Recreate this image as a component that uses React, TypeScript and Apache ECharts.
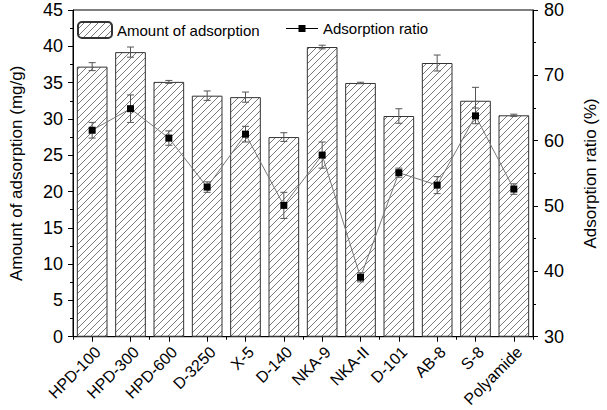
import React, { useEffect, useRef } from "react";
import * as echarts from "echarts";

const categories = ["HPD-100", "HPD-300", "HPD-600", "D-3250", "X-5", "D-140", "NKA-9", "NKA-II", "D-101", "AB-8", "S-8", "Polyamide"];
const amount = [37.2, 39.2, 35.1, 33.2, 33.0, 27.5, 39.9, 34.95, 30.4, 37.7, 32.5, 30.5];
const amountErr = [0.55, 0.7, 0.2, 0.65, 0.7, 0.6, 0.25, 0.1, 1.0, 1.1, 1.85, 0.15];
const ratio = [61.6, 64.9, 60.4, 52.9, 61.0, 50.1, 57.8, 39.1, 55.1, 53.2, 63.8, 52.6];
const ratioErr = [1.2, 2.1, 1.1, 0.8, 1.2, 2.0, 2.0, 0.7, 0.7, 1.3, 1.2, 0.8];

const FONT = "'Liberation Sans', Arial, Helvetica, sans-serif";

function makeHatch(): HTMLCanvasElement {
  const s = 7;
  const c = document.createElement("canvas");
  c.width = s;
  c.height = s;
  const ctx = c.getContext("2d")!;
  ctx.fillStyle = "#ffffff";
  ctx.fillRect(0, 0, s, s);
  ctx.strokeStyle = "#7a7a7a";
  ctx.lineWidth = 1;
  ctx.beginPath();
  ctx.moveTo(-1, s + 1);
  ctx.lineTo(s + 1, -1);
  ctx.moveTo(-1, 1);
  ctx.lineTo(1, -1);
  ctx.moveTo(s - 1, s + 1);
  ctx.lineTo(s + 1, s - 1);
  ctx.stroke();
  return c;
}

function errRender(capHalf: number) {
  return (params: any, api: any) => {
    const i = api.value(0);
    const v = api.value(1);
    const e = api.value(2);
    const top = api.coord([i, v + e]);
    const bot = api.coord([i, v - e]);
    const style = { stroke: "#555", lineWidth: 1 };
    return {
      type: "group",
      children: [
        { type: "line", shape: { x1: top[0], y1: top[1], x2: bot[0], y2: bot[1] }, style },
        { type: "line", shape: { x1: top[0] - capHalf, y1: top[1], x2: top[0] + capHalf, y2: top[1] }, style },
        { type: "line", shape: { x1: bot[0] - capHalf, y1: bot[1], x2: bot[0] + capHalf, y2: bot[1] }, style },
      ],
    };
  };
}

export default function App() {
  const ref = useRef<HTMLDivElement>(null);
  useEffect(() => {
    if (!ref.current) return;
    const chart = echarts.init(ref.current, null, { renderer: "svg" });
    const hatch = makeHatch();
    const axisText = { color: "#000", fontSize: 18, fontFamily: FONT };
    const legendText = { color: "#000", fontSize: 15, fontFamily: FONT };
    chart.setOption({
      animation: false,
      backgroundColor: "#fff",
      textStyle: { fontFamily: FONT },
      grid: { left: 68, right: 68, top: 10, bottom: 73, show: true, borderColor: "#000", borderWidth: 1, backgroundColor: "transparent" },
      legend: [
        {
          left: 72,
          top: 16,
          itemWidth: 34,
          itemHeight: 16,
          data: ["Amount of adsorption"],
          textStyle: legendText,
        },
        {
          left: 281,
          top: 16,
          itemWidth: 32,
          itemHeight: 16,
          itemStyle: {},
          data: [{ name: "Adsorption ratio", icon: "path://M0,7.5 L12.5,7.5 L12.5,4.5 L19.5,4.5 L19.5,7.5 L32,7.5 L32,8.5 L19.5,8.5 L19.5,11.5 L12.5,11.5 L12.5,8.5 L0,8.5 Z" }],
          textStyle: legendText,
        },
      ],
      xAxis: [
        {
          type: "category",
          data: categories,
          position: "bottom",
          axisLine: { show: true, lineStyle: { color: "#000" } },
          axisTick: { show: true, alignWithLabel: true, length: 5, lineStyle: { color: "#000" } },
          axisLabel: { rotate: 45, color: "#000", fontSize: 16, fontFamily: FONT, margin: 7, interval: 0, verticalAlign: "top" },
          splitLine: { show: false },
        },
        {
          type: "category",
          data: categories,
          position: "bottom",
          axisLine: { show: false },
          axisTick: { show: true, alignWithLabel: false, length: 3, lineStyle: { color: "#000" } },
          axisLabel: { show: false },
          splitLine: { show: false },
        },
      ],
      yAxis: [
        {
          type: "value",
          min: 0,
          max: 45,
          interval: 5,
          name: "Amount of adsorption (mg/g)",
          nameLocation: "middle",
          nameGap: 48,
          nameTextStyle: { color: "#000", fontSize: 17, fontFamily: FONT },
          axisLine: { show: true, lineStyle: { color: "#000" } },
          axisTick: { show: true, length: 5, lineStyle: { color: "#000" } },
          minorTick: { show: true, splitNumber: 2, length: 3, lineStyle: { color: "#000" } },
          axisLabel: { ...axisText, margin: 10 },
          splitLine: { show: false },
        },
        {
          type: "value",
          min: 30,
          max: 80,
          interval: 10,
          position: "right",
          name: "Adsorption ratio (%)",
          nameLocation: "middle",
          nameGap: 49,
          nameTextStyle: { color: "#000", fontSize: 17, fontFamily: FONT },
          axisLine: { show: true, lineStyle: { color: "#000" } },
          axisTick: { show: true, length: 5, lineStyle: { color: "#000" } },
          minorTick: { show: true, splitNumber: 2, length: 3, lineStyle: { color: "#000" } },
          axisLabel: { ...axisText, margin: 11 },
          splitLine: { show: false },
        },
      ],
      series: [
        {
          name: "Amount of adsorption",
          type: "bar",
          data: amount,
          barWidth: "80%",
          itemStyle: { color: { image: hatch, repeat: "repeat" }, borderColor: "#333", borderWidth: 1 },
          z: 2,
        },
        {
          name: "amountErr",
          type: "custom",
          data: amount.map((v, i) => [i, v, amountErr[i]]),
          renderItem: errRender(3.5),
          z: 3,
          silent: true,
        },
        {
          name: "ratioErr",
          type: "custom",
          yAxisIndex: 1,
          data: ratio.map((v, i) => [i, v, ratioErr[i]]),
          renderItem: errRender(3.5),
          z: 4,
          silent: true,
        },
        {
          name: "Adsorption ratio",
          type: "line",
          yAxisIndex: 1,
          data: ratio,
          symbol: "rect",
          symbolSize: 7,
          lineStyle: { color: "#777", width: 1 },
          itemStyle: { color: "#000" },
          z: 5,
        },
      ],
    });
    return () => chart.dispose();
  }, []);
  return <div ref={ref} style={{ width: 607, height: 410, position: "absolute", left: 0, top: 0 }} />;
}
